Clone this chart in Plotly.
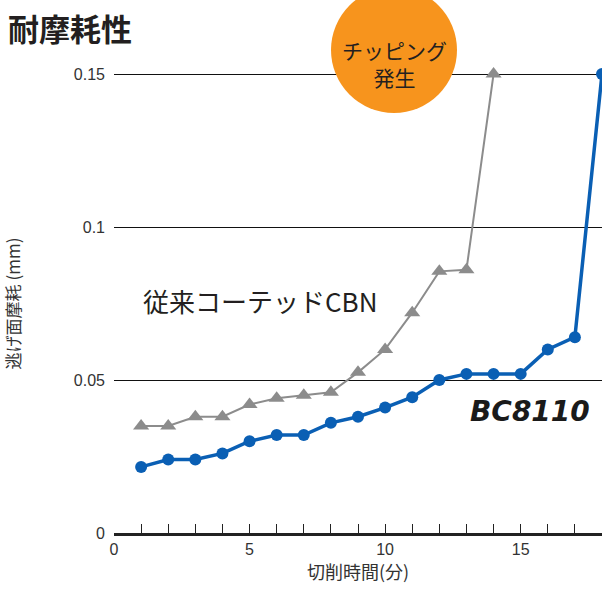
import plotly.graph_objects as go

minutes = list(range(1, 19))
bc8110 = [0.0216, 0.024, 0.024, 0.026, 0.030, 0.032, 0.032, 0.036, 0.038, 0.041,
          0.0444, 0.050, 0.052, 0.052, 0.052, 0.060, 0.064, 0.150]
cbn_minutes = list(range(1, 15))
cbn = [0.035, 0.035, 0.038, 0.038, 0.042, 0.044, 0.045, 0.046, 0.0525, 0.060,
       0.072, 0.0855, 0.086, 0.150]

ytick_vals = [0, 0.05, 0.1, 0.15]
ytick_text = ["0", "0.05", "0.1", "0.15"]
xtick_vals = [0, 5, 10, 15]

FONT = "Noto Sans CJK JP"
L, T, B = 114, 74, 62
PW, PH = 602 - L, 595 - T - B


def px(x):
    return (x - L) / PW


def py(y):
    return (595 - B - y) / PH


fig = go.Figure()
fig.add_trace(go.Scatter(
    x=cbn_minutes, y=cbn, mode="lines+markers",
    line=dict(color="#8c8c8c", width=2),
    marker=dict(symbol="triangle-up", size=14, color="#8c8c8c"),
    cliponaxis=False, showlegend=False))
fig.add_trace(go.Scatter(
    x=minutes, y=bc8110, mode="lines+markers",
    line=dict(color="#0a5fb4", width=3.5),
    marker=dict(symbol="circle", size=12, color="#0a5fb4"),
    cliponaxis=False, showlegend=False))

fig.update_layout(
    width=602, height=595,
    margin=dict(l=L, r=0, t=T, b=B),
    paper_bgcolor="white", plot_bgcolor="white",
    font=dict(family=FONT, color="#333333", size=14),
    xaxis=dict(range=[0, 18], tickvals=xtick_vals, ticks="inside", ticklen=9,
               tickwidth=1, tickcolor="#222",
               minor=dict(dtick=1, ticks="inside", ticklen=9, tickcolor="#222", tickwidth=1),
               showline=True, linecolor="#222", linewidth=3, showgrid=False,
               zeroline=False, tickfont=dict(family="Liberation Sans", size=16, color="#333"),
               title=dict(text="切削時間(分)", font=dict(family=FONT, size=18, color="#333"),
                          standoff=8)),
    yaxis=dict(range=[0, 0.15], tickvals=ytick_vals, ticktext=ytick_text,
               showgrid=True, gridcolor="#111", gridwidth=1, zeroline=False,
               showline=False, ticks="", ticklabelstandoff=8,
               tickfont=dict(family="Liberation Sans", size=16, color="#333"),
               title=dict(text="逃げ面摩耗 (mm)", font=dict(family=FONT, size=17, color="#333"),
                          standoff=50)),
    shapes=[
        dict(type="line", xref="paper", yref="y", x0=0, x1=1, y0=0.15, y1=0.15,
             line=dict(color="#111", width=2), layer="below"),
        dict(type="circle", xref="paper", yref="paper",
             x0=px(331), x1=px(457), y0=py(113), y1=py(-13),
             fillcolor="#f7941d", line=dict(width=0), layer="above"),
    ],
    annotations=[
        dict(text="<b>耐摩耗性</b>", xref="paper", yref="paper",
             x=px(6), y=py(28), xanchor="left", yanchor="middle",
             showarrow=False, font=dict(family=FONT, size=31, color="#231f20")),
        dict(text="チッピング<br>発生", xref="paper", yref="paper",
             x=px(394), y=py(63), xanchor="center", yanchor="middle",
             showarrow=False, font=dict(family=FONT, size=21, color="#231f20")),
        dict(text="従来コーテッドCBN", xref="paper", yref="paper",
             x=px(141), y=py(300), xanchor="left", yanchor="middle",
             showarrow=False, font=dict(family=FONT, size=26, color="#231f20")),
        dict(text="<b><i>BC8110</i></b>", xref="paper", yref="paper",
             x=px(530), y=py(411), xanchor="center", yanchor="middle",
             showarrow=False, font=dict(family="DejaVu Sans", size=28, color="#1a1a1a")),
    ],
)

fig.write_html("out.html", config={"displayModeBar": False},
               post_script="document.body.style.margin='0';document.body.style.overflow='hidden';")
